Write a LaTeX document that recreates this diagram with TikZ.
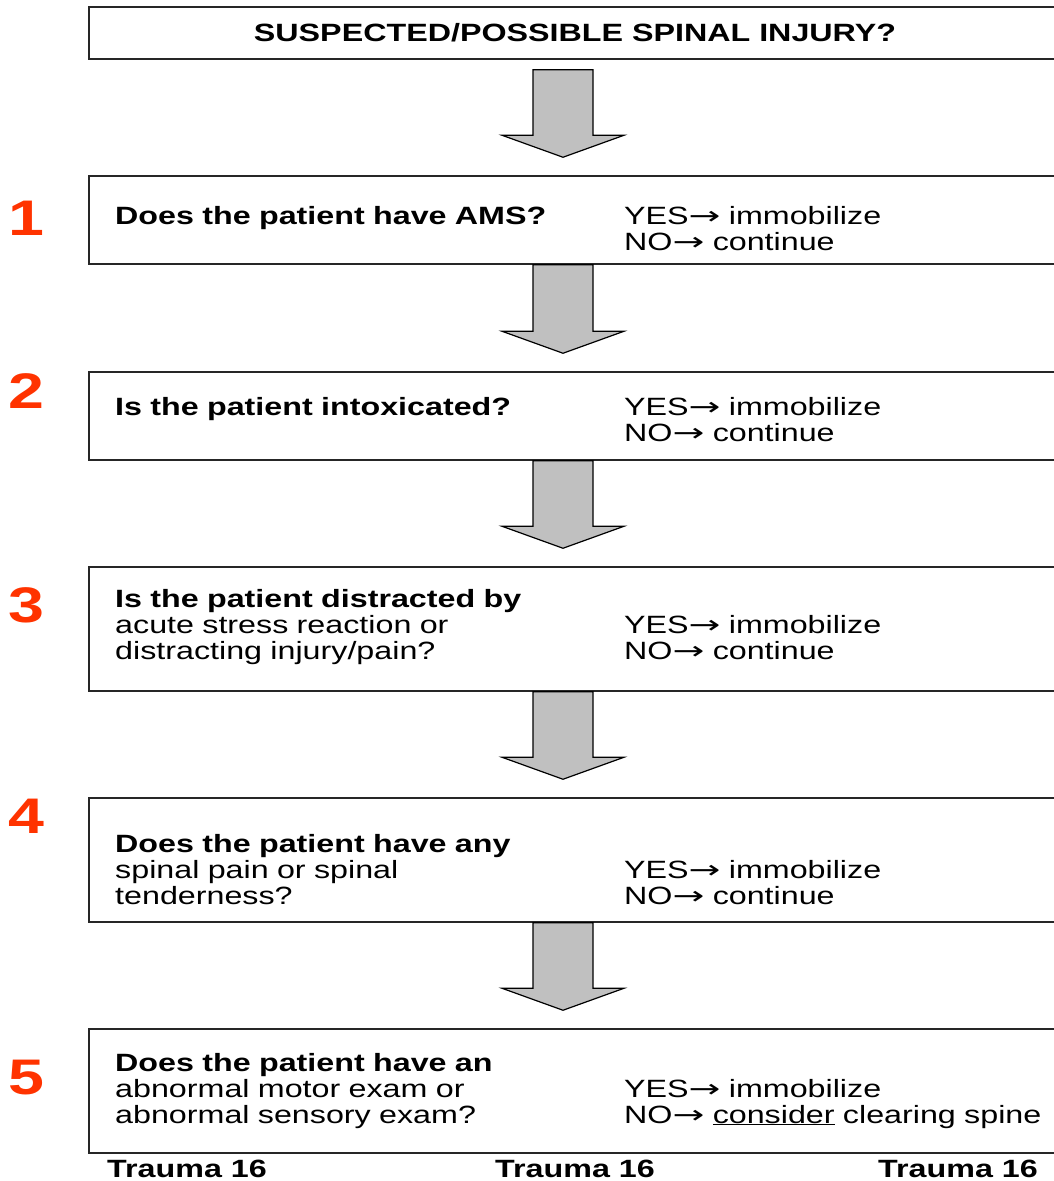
\documentclass[tikz,border=0pt]{standalone}
\usepackage{fontspec}
\setmainfont[FakeStretch=1.29]{Liberation Sans}
\newfontfamily\arrowfont[FakeStretch=1.52]{DejaVu Sans}
\usepackage{xcolor}
\usetikzlibrary{calc}
\definecolor{numred}{RGB}{255,51,0}
\definecolor{arrowgray}{RGB}{192,192,192}
\newcommand{\yesno}{{\arrowfont →}}

\begin{document}
\begin{tikzpicture}[x=1pt,y=-1pt,
    qbox/.style={draw=black!85,line width=1.5pt,fill=white,minimum width=972pt,inner sep=0pt},
    qtext/.style={anchor=base west,align=left,inner sep=0pt,font=\fontsize{25}{26}\selectfont},
    qnum/.style={anchor=base,inner sep=0pt,text=numred,font=\fontsize{50}{50}\selectfont\bfseries},
    foot/.style={anchor=base,inner sep=0pt,font=\fontsize{25}{26}\selectfont\bfseries},
    blockarrow/.style={draw=black,line width=1.2pt,fill=arrowgray}]
    \useasboundingbox (0,0) rectangle (1054,1181);
    \node[qbox,minimum height=52pt,font=\fontsize{25}{26}\selectfont\bfseries] (title) at (575,33) {SUSPECTED/POSSIBLE SPINAL INJURY?};
    \node[qbox,minimum height=88pt] (q1) at (575,220) {};
    \node[qbox,minimum height=88pt] (q2) at (575,416) {};
    \node[qbox,minimum height=124pt] (q3) at (575,629) {};
    \node[qbox,minimum height=124pt] (q4) at (575,860) {};
    \node[qbox,minimum height=124pt] (q5) at (575,1091) {};
    \coordinate (ax) at (563,0);
    \foreach \a/\b/\s in {title/q1/10pt,q1/q2/0pt,q2/q3/0pt,q3/q4/0pt,q4/q5/0pt}
      \draw[blockarrow] let \p1=(ax |- \a.south), \p2=(ax |- \b.north) in
        (\x1-30pt,\y1-\s) -- (\x1-30pt,\y2+40pt) -- (\x1-61pt,\y2+40pt) -- (\x1,\y2+18pt)
        -- (\x1+61pt,\y2+40pt) -- (\x1+30pt,\y2+40pt) -- (\x1+30pt,\y1-\s) -- cycle;
    \node[qnum] (n1) at (26,235) {1};
    \node[qnum] (n2) at (26,408) {2};
    \node[qnum] (n3) at (26,622) {3};
    \node[qnum] (n4) at (26,833) {4};
    \node[qnum] (n5) at (26,1094) {5};
    \node[qtext,text width=470pt] (q1l) at (115,224) {\bfseries Does the patient have AMS?};
    \node[qtext,text width=440pt] (q1r) at (624,224) {YES\yesno\ immobilize\\NO\yesno\ continue};
    \node[qtext,text width=470pt] (q2l) at (115,415) {\bfseries Is the patient intoxicated?};
    \node[qtext,text width=440pt] (q2r) at (624,415) {YES\yesno\ immobilize\\NO\yesno\ continue};
    \node[qtext,text width=470pt] (q3l) at (115,607) {\textbf{Is the patient distracted by}\\acute stress reaction or\\distracting injury/pain?};
    \node[qtext,text width=440pt] (q3r) at (624,633) {YES\yesno\ immobilize\\NO\yesno\ continue};
    \node[qtext,text width=470pt] (q4l) at (115,852) {\textbf{Does the patient have any}\\spinal pain or spinal\\tenderness?};
    \node[qtext,text width=440pt] (q4r) at (624,878) {YES\yesno\ immobilize\\NO\yesno\ continue};
    \node[qtext,text width=470pt] (q5l) at (115,1071) {\textbf{Does the patient have an}\\abnormal motor exam or\\abnormal sensory exam?};
    \node[qtext,text width=440pt] (q5r) at (624,1097) {YES\yesno\ immobilize\\NO\yesno\ \underline{consider} clearing spine};
    \node[foot] (foot1) at (187,1177) {Trauma 16};
    \node[foot] (foot2) at (575,1177) {Trauma 16};
    \node[foot] (foot3) at (958,1177) {Trauma 16};
\end{tikzpicture}
\end{document}
